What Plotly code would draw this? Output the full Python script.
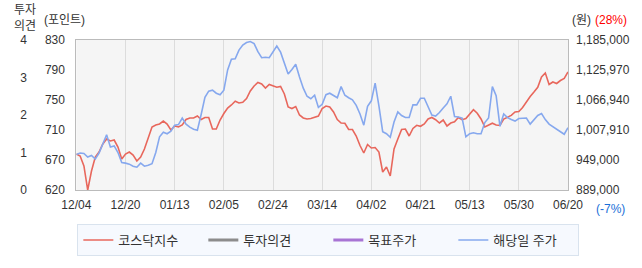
import numpy as np
import plotly.graph_objects as go

# ---------------- data ----------------
DATE_LABELS = ["12/04", "12/20", "01/13", "02/05", "02/24", "03/14",
               "04/02", "04/21", "05/13", "05/30", "06/20"]
TICK_STEP = 13  # trading days between date labels

KOSDAQ = [670.4, 667.6, 653.6, 620.0, 646.6, 666.2, 673.2, 684.4, 691.4, 688.6,
          690.0, 680.2, 663.4, 670.4, 673.2, 669.0, 660.6, 666.2, 677.4, 692.8,
          708.2, 711.0, 712.4, 716.6, 712.4, 704.0, 709.6, 708.2, 711.0, 718.7,
          720.8, 720.8, 723.6, 718.7, 721.5, 721.5, 705.4, 705.4, 718.0, 727.1,
          734.8, 739.0, 744.2, 741.8, 742.8, 748.1, 758.6, 765.6, 770.5, 768.4,
          762.8, 767.7, 765.6, 763.8, 764.9, 754.4, 736.2, 734.1, 736.9, 725.0,
          720.8, 719.4, 720.1, 721.5, 723.6, 734.1, 737.6, 736.2, 729.2, 718.7,
          713.8, 713.4, 704.7, 704.7, 695.6, 682.3, 671.8, 683.7, 678.8, 679.5,
          673.2, 645.2, 652.2, 639.6, 677.4, 691.4, 704.7, 705.4, 695.6, 706.1,
          710.6, 709.2, 712.4, 719.4, 721.5, 718.4, 713.8, 718.0, 709.6, 713.8,
          715.5, 721.5, 718.4, 720.1, 727.1, 732.4, 727.4, 719.4, 708.2, 711.0,
          713.5, 711.0, 710.3, 719.4, 721.6, 724.4, 729.2, 729.9, 735.5, 743.9,
          750.9, 757.2, 763.8, 778.2, 783.8, 767.7, 771.2, 769.1, 773.3, 776.1,
          785.2]

PRICE = [959000, 962000, 961000, 954000, 957000, 950000, 962000, 981000, 998000, 974000,
         976000, 963000, 943000, 942000, 940000, 936000, 934000, 942000, 936000, 938000,
         941000, 963000, 994000, 1003000, 1000000, 1005000, 1017000, 1018000, 1031000, 1019000,
         1013000, 1009000, 1007000, 1038000, 1072000, 1084000, 1086000, 1080000, 1077000, 1086000,
         1126000, 1147000, 1148000, 1165000, 1175000, 1180000, 1182000, 1178000, 1162000, 1150000,
         1151000, 1150000, 1161000, 1173000, 1161000, 1141000, 1118000, 1127000, 1137000, 1112000,
         1090000, 1074000, 1069000, 1076000, 1052000, 1058000, 1077000, 1080000, 1075000, 1071000,
         1093000, 1076000, 1071000, 1067000, 1056000, 1039000, 1017000, 1054000, 1065000, 1100000,
         1055000, 1004000, 1000000, 993000, 1023000, 1043000, 1036000, 1032000, 1032000, 1057000,
         1057000, 1070000, 1070000, 1054000, 1037000, 1035000, 1042000, 1051000, 1059000, 1074000,
         1034000, 1033000, 1031000, 994000, 1000000, 1002000, 1000000, 1000000, 1022000, 1031000,
         1093000, 1075000, 1015000, 1039000, 1032000, 1028000, 1025000, 1030000, 1031000, 1031000,
         1019000, 1028000, 1036000, 1040000, 1028000, 1019000, 1014000, 1009000, 1004000, 999000,
         1012000]

KOSDAQ_RANGE = [620, 830]
KOSDAQ_TICK_LABELS = ["620", "670", "710", "750", "790", "830"]
PRICE_RANGE = [889000, 1185000]
PRICE_TICKS = [889000, 949000, 1007910, 1066940, 1125970, 1185000]
OPINION_TICKS = [0, 1, 2, 3, 4]

SERIES_NAMES = ["코스닥지수", "투자의견", "목표주가", "해당일 주가"]
SERIES_COLORS = ["#e8675c", "#8c8c8c", "#a874d4", "#86a8ee"]

# ---------------- figure ----------------
W, H = 642, 268
ML, MR, MT, MB = 25, 69, 40, 78
PLOT_L, PLOT_R, PLOT_T, PLOT_B = 75, 573, 40, 190
pw = W - ML - MR
ph = H - MT - MB

def px_x(p):
    return (p - ML) / pw

def px_y(p):
    return (PLOT_B - p) / ph

n = len(KOSDAQ)
xs = list(range(n))
FONT = "Liberation Sans, Noto Sans CJK KR, sans-serif"
TXT = "#333333"

fig = go.Figure()
fig.add_trace(go.Scatter(x=xs, y=KOSDAQ, mode="lines", name=SERIES_NAMES[0],
                         line=dict(color=SERIES_COLORS[0], width=1.6), yaxis="y"))
fig.add_trace(go.Scatter(x=[None], y=[None], mode="lines", name=SERIES_NAMES[1],
                         line=dict(color=SERIES_COLORS[1], width=3), yaxis="y3"))
fig.add_trace(go.Scatter(x=[None], y=[None], mode="lines", name=SERIES_NAMES[2],
                         line=dict(color=SERIES_COLORS[2], width=3), yaxis="y2"))
fig.add_trace(go.Scatter(x=xs, y=PRICE, mode="lines", name=SERIES_NAMES[3],
                         line=dict(color=SERIES_COLORS[3], width=1.6), yaxis="y2"))

k_pos = list(np.linspace(KOSDAQ_RANGE[0], KOSDAQ_RANGE[1], len(KOSDAQ_TICK_LABELS)))

fig.update_layout(
    width=W, height=H,
    margin=dict(l=ML, r=MR, t=MT, b=MB),
    paper_bgcolor="white", plot_bgcolor="#f5f5f5",
    font=dict(family=FONT, size=12, color=TXT),
    showlegend=True,
    xaxis=dict(domain=[px_x(PLOT_L), 1], range=[0, n - 1],
               tickvals=list(range(0, n, TICK_STEP)), ticktext=DATE_LABELS,
               showgrid=True, gridcolor="#dcdcdc", gridwidth=1,
               showline=True, linecolor="#bbbbbb", linewidth=1, mirror=True,
               zeroline=False, ticks="", ticklabelstandoff=4,
               tickfont=dict(size=12, color=TXT)),
    yaxis=dict(range=KOSDAQ_RANGE, tickvals=k_pos, ticktext=KOSDAQ_TICK_LABELS,
               showgrid=False, zeroline=False,
               showline=True, linecolor="#bbbbbb", linewidth=1, mirror=True,
               ticks="", ticklabelstandoff=8, tickfont=dict(size=12, color=TXT)),
    yaxis2=dict(range=PRICE_RANGE, tickvals=PRICE_TICKS, tickformat=",d",
                overlaying="y", side="right", anchor="x",
                showgrid=False, zeroline=False, showline=False,
                ticks="", ticklabelstandoff=7, tickfont=dict(size=12, color=TXT)),
    yaxis3=dict(range=[0, 4], tickvals=OPINION_TICKS,
                overlaying="y", side="left", anchor="free", position=0,
                showgrid=False, zeroline=False, showline=False,
                ticks="", ticklabelstandoff=0, tickfont=dict(size=12, color=TXT)),
    legend=dict(orientation="h", x=0.557, xanchor="center",
                y=px_y(224), yanchor="top",
                bgcolor="#f6f9fe", bordercolor="#d9e3ee", borderwidth=1,
                entrywidth=80, entrywidthmode="pixels",
                font=dict(size=13, color=TXT), itemwidth=30),
)

ann = [
    dict(text="투자<br>의견", x=px_x(23), y=px_y(18), color=TXT),
    dict(text="(포인트)", x=px_x(63), y=px_y(20), color=TXT),
    dict(text="(원)", x=px_x(587), y=px_y(20), color=TXT),
    dict(text="(28%)", x=px_x(617), y=px_y(20), color="#ff0000"),
    dict(text="(-7%)", x=px_x(616), y=px_y(209), color="#1a6fd8"),
]
for a in ann:
    fig.add_annotation(text=a["text"], x=a["x"], y=a["y"], xref="paper", yref="paper",
                       xanchor="center", yanchor="middle", showarrow=False,
                       font=dict(size=12, color=a["color"], family=FONT))

fig.write_html("out.html")
